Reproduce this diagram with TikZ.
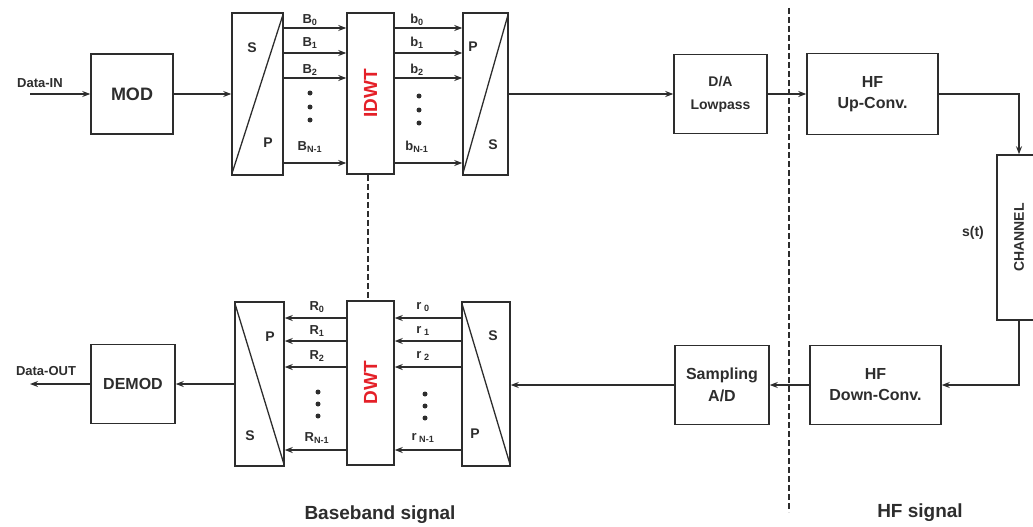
\documentclass[tikz,border=0pt]{standalone}
\usepackage{fontspec}
\usepackage{graphicx}
\setmainfont{Liberation Sans}
\usetikzlibrary{arrows.meta}
\definecolor{ink}{RGB}{45,45,45}
\definecolor{wred}{RGB}{228,32,40}

\newcommand{\fs}[1]{\bfseries\fontsize{#1}{#1}\selectfont}

\begin{document}
\begin{tikzpicture}[x=1pt,y=-1pt,line width=1.3pt,draw=ink,text=ink,
  >={Stealth[length=8pt,width=6pt]},
  blk/.style={draw,rectangle,line width=1.5pt,inner sep=0pt,align=center},
  lbl/.style={font=\fs{13},inner sep=0pt},
  sep/.style={dash pattern=on 6pt off 3pt,line width=1.4pt}]
\useasboundingbox (0,0) rectangle (1033,527);

% transmitter
\node [blk,minimum width=82,minimum height=80,font=\fs{18}] (mod) at (132,94) {MOD};
\node [blk,minimum width=51,minimum height=162] (sp1) at (257.5,94) {};
\node [blk,minimum width=47,minimum height=161,text=wred,font=\fs{19}] (idwt) at (370.5,93.5) {\rotatebox{90}{IDWT}};
\node [blk,minimum width=45,minimum height=162] (ps1) at (485.5,94) {};
\node [blk,minimum width=93,minimum height=79,font=\bfseries\fontsize{14}{23}\selectfont] (da) at (720.5,94) {D/A\\Lowpass};
\node [blk,minimum width=131,minimum height=81,font=\bfseries\fontsize{16}{21}\selectfont] (up) at (872.5,94) {HF\\Up-Conv.};
\node [blk,minimum width=44,minimum height=165,font=\fs{14}] (ch) at (1019,237.5) {\rotatebox{90}{CHANNEL}};

% receiver
\node [blk,minimum width=131,minimum height=79,font=\bfseries\fontsize{16}{21}\selectfont] (down) at (875.5,385) {HF\\Down-Conv.};
\node [blk,minimum width=94,minimum height=79,font=\bfseries\fontsize{16}{22}\selectfont] (samp) at (722,385) {Sampling\\A/D};
\node [blk,minimum width=48,minimum height=164] (sp2) at (486,384) {};
\node [blk,minimum width=47,minimum height=164,text=wred,font=\fs{19}] (dwt) at (370.5,383) {\rotatebox{90}{DWT}};
\node [blk,minimum width=49,minimum height=164] (ps2) at (259.5,384) {};
\node [blk,minimum width=84,minimum height=79,font=\fs{16}] (demod) at (133,384) {DEMOD};

% S/P letters
\node [font=\fs{14}] (sp1s) at (252,48) {S};
\node [font=\fs{14}] (sp1p) at (268,143) {P};
\node [font=\fs{14}] (ps1p) at (473,47) {P};
\node [font=\fs{14}] (ps1s) at (493,145) {S};
\node [font=\fs{14}] (sp2s) at (493,336) {S};
\node [font=\fs{14}] (sp2p) at (475,434) {P};
\node [font=\fs{14}] (ps2p) at (270,337) {P};
\node [font=\fs{14}] (ps2s) at (250,436) {S};

\draw [shorten <=2pt,shorten >=2pt] (sp1.south west) -- (sp1.north east);
\draw [shorten <=2pt,shorten >=2pt] (ps1.south west) -- (ps1.north east);
\draw [shorten <=2pt,shorten >=2pt] (sp2.north west) -- (sp2.south east);
\draw [shorten <=2pt,shorten >=2pt] (ps2.north west) -- (ps2.south east);

% parallel lines
\foreach \y/\ly/\l in {28/20/0,53/43/1,78/70/2,163/147/{N-1}} {
  \draw [->] (sp1.east |- 0,\y) -- (idwt.west |- 0,\y);
  \draw [->] (idwt.east |- 0,\y) -- (ps1.west |- 0,\y);
  \node [lbl] (B\l) at (310,\ly) {B\textsubscript{\l}};
  \node [lbl] (b\l) at (417,\ly) {b\textsubscript{\l}};
}
\foreach \y/\ly/\l in {318/307/0,341/331/1,367/356/2,450/438/{N-1}} {
  \draw [->] (sp2.west |- 0,\y) -- (dwt.east |- 0,\y);
  \draw [->] (dwt.west |- 0,\y) -- (ps2.east |- 0,\y);
  \node [lbl] (R\l) at (317,\ly) {R\textsubscript{\l}};
  \node [lbl] (r\l) at (423,\ly) {r\textsubscript{ \l}};
}
\foreach \y in {93,107,120} {
  \fill [ink] (310,\y) circle (2.5);
  \fill [ink] (419,\y+3) circle (2.5);
}
\foreach \y in {392,404,416} {
  \fill [ink] (318,\y) circle (2.5);
  \fill [ink] (425,\y+2) circle (2.5);
}

% signal path
\coordinate (in) at (30,94);
\coordinate (out) at (30,384);
\node [font=\fs{13}] (datain) at (40,83) {Data-IN};
\node [font=\fs{13}] (dataout) at (46,371) {Data-OUT};
\draw [->] (in) -- (mod.west);
\draw [->] (mod.east) -- (sp1.west);
\draw [->] (ps1.east) -- (da.west);
\draw [->] (da.east) -- (up.west);
\draw [->] (up.east) -| (ch.north);
\draw [->] (ch.south) |- (down.east);
\draw [->] (down.west) -- (samp.east);
\draw [->] (samp.west) -- (samp.west -| sp2.east);
\draw [->] (ps2.west) -- (demod.east);
\draw [->] (demod.west) -- (out);
\node [font=\fs{14}] (st) at (973,233) {s(t)};

% separators
\draw [sep] ([xshift=-2.5pt]idwt.south) -- ([xshift=-2.5pt]dwt.north);
\draw [sep] (789,8) -- (789,512);
\node [font=\fs{19}] (bb) at (380,515) {Baseband signal};
\node [font=\fs{19}] (hf) at (920,513) {HF signal};
\end{tikzpicture}
\end{document}
